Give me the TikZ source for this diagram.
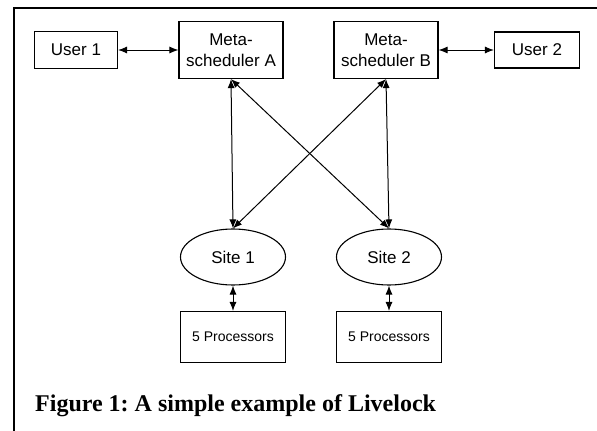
\documentclass[tikz,border=0pt]{standalone}
\usepackage{fontspec}
\setmainfont{Liberation Serif}
\setsansfont{Liberation Sans}
\usetikzlibrary{shapes,arrows.meta,positioning,calc}

\tikzset{
    box/.style={draw, line width=1.1pt, font=\sffamily\fontsize{17}{21}\selectfont, align=center, inner sep=0pt},
    procbox/.style={box, minimum width=105pt, minimum height=51pt, font=\sffamily\fontsize{14}{16}\selectfont},
    site/.style={draw, ellipse, line width=1.1pt, font=\sffamily\fontsize{17}{21}\selectfont, minimum width=105pt, minimum height=56pt, inner sep=0pt},
    link/.style={{Latex[length=9pt,width=7pt]}-{Latex[length=9pt,width=7pt]}, line width=1pt}
}

\begin{document}
\begin{tikzpicture}[x=1pt,y=-1pt]
    \useasboundingbox (0,0) rectangle (597,431);
    % frame
    \draw[line width=1.8pt] (14,431) -- (14,8) -- (597,8);

    % schedulers and users
    \node[box, minimum width=83pt, minimum height=37pt] (u1) at (76,50) {User 1};
    \node[box, minimum width=104pt, minimum height=57pt] (ma) at (231,50) {Meta-\\scheduler A};
    \node[box, minimum width=104pt, minimum height=57pt] (mb) at (386,50) {Meta-\\scheduler B};
    \node[box, minimum width=85pt, minimum height=36pt] (u2) at (537,50) {User 2};

    % sites
    \node[site] (s1) at (233,257) {Site 1};
    \node[site] (s2) at (389,257) {Site 2};

    % processors
    \node[procbox] (p1) at (233,337) {5 Processors};
    \node[procbox] (p2) at (389,337) {5 Processors};

    % links
    \draw[link] (u1) -- (ma);
    \draw[link] (mb) -- (u2);
    \draw[link] (ma.south) -- (s1.north);
    \draw[link] (ma.south) -- (s2.north);
    \draw[link] (mb.south) -- (s1.north);
    \draw[link] (mb.south) -- (s2.north);
    \draw[link] (s1) -- (p1);
    \draw[link] (s2) -- (p2);

    % caption
    \node[anchor=base west, font=\bfseries\fontsize{24}{28}\selectfont, inner sep=0pt] (cap) at (35,411) {\frenchspacing Figure 1: A simple example of Livelock};
\end{tikzpicture}
\end{document}
